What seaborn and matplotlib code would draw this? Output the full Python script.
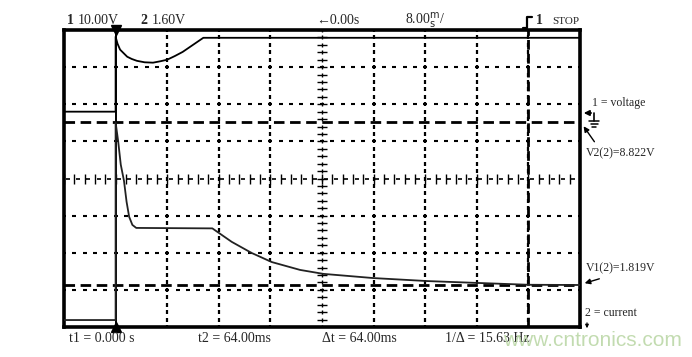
import numpy as np
import pandas as pd
import matplotlib
matplotlib.use("Agg")
import matplotlib.pyplot as plt
import seaborn as sns
from matplotlib.lines import Line2D

sns.set_theme(style="white")
plt.rcParams['font.family'] = ['Liberation Serif', 'DejaVu Serif']

# ---------------- data (read from the screen) ----------------
# channel 1 : voltage (10.00 V/div), time in ms (8.00 ms/div)
v_time = [-8.0, 0.0, 0.0, 0.3, 0.7, 1.8, 2.5, 3.3, 4.5, 5.8, 7.0, 8.0, 9.2, 10.4, 12.0, 13.6, 72.0]
v_volts = [0.0, 0.0, 20.2, 18.3, 16.7, 14.8, 14.2, 13.7, 13.3, 13.2, 13.6, 14.0, 15.0, 16.1, 18.0, 19.9, 19.9]
# channel 2 : current probe (1.60 V/div)
i_time = [-8.0, 0.0, 0.0, 0.4, 0.8, 1.3, 1.7, 2.1, 2.6, 3.2, 15.0, 18.0, 21.1, 24.2, 28.6,
          32.2, 39.9, 48.3, 56.0, 64.0, 72.0]
i_volts = [0.30, 0.30, 8.82, 8.0, 7.0, 6.3, 5.4, 4.75, 4.4, 4.27, 4.25, 3.67, 3.19, 2.80, 2.46,
           2.29, 2.11, 1.98, 1.90, 1.82, 1.81]

ch1_scale, ch2_scale = 10.0, 1.6      # V/div
ch1_offset, ch2_offset = 5.8, 0.0     # ground positions (div)
t1, t2 = 0.0, 64.0                    # time cursors (ms)
v1_cursor, v2_cursor = 1.819, 8.822   # volt cursors on ch2 (V)

top_labels = ["10.00V", "1.60V", "\u21900.00s", r"8.00$^{\rm m}_{\rm s}$/"]
bottom_labels = ["t1 = 0.000 s", "t2 = 64.00ms", "\u0394t = 64.00ms", "1/\u0394 = 15.63 Hz"]

# ---------------- figure ----------------
W, H = 692, 357
fig = plt.figure(figsize=(W / 100, H / 100), dpi=100)
fig.patch.set_facecolor("white")
ax = fig.add_axes([64 / W, 1 - 327 / H, 516 / W, 297 / H])
ax.set_facecolor("white")


def P(x, y):
    return (x / W, 1 - y / H)


xmin, xmax = -8.0, 72.0
ax.set_xlim(xmin, xmax)
ax.set_ylim(0, 8)

# grid dots
xdivs = np.arange(xmin, xmax + 0.01, 8.0)
gx = np.arange(xmin, xmax + 0.01, 1.6)
gy = np.arange(0, 8.01, 0.2)
for yd in [1, 2, 3, 5, 6, 7]:
    ax.plot(gx, np.full_like(gx, yd), ls="none", marker="_", ms=3.2, mew=1.5, color="black", zorder=2)
for xd in xdivs[2:-1]:
    if abs(xd - 32) < 1e-6:
        continue
    ax.plot(np.full_like(gy, xd), gy, ls="none", marker="|", ms=3.2, mew=1.6, color="black", zorder=2)
# centre graticule
ax.plot(gx, np.full_like(gx, 4.0), ls="none", marker="|", ms=7, mew=1.0, color="black", zorder=2)
ax.plot(gx + 0.55, np.full_like(gx, 4.0), ls="none", marker="_", ms=3, mew=1.2, color="black", zorder=2)
ax.plot(np.full_like(gy, 32.0), gy, ls="none", marker="_", ms=7, mew=1.0, color="black", zorder=2)
ax.plot(np.full_like(gy, 32.0), gy, ls="none", marker="|", ms=3, mew=1.0, color="black", zorder=2)

# cursors
ax.axvline(t1, color="black", lw=1.4, zorder=3)
ax.axvline(t2, color="black", lw=2.0, ls=(0, (3.5, 1.5)), zorder=3)
ax.axhline(v2_cursor / ch2_scale + ch2_offset, color="black", lw=2.0, ls=(0, (3.8, 2.0)), zorder=3)
ax.axhline(v1_cursor / ch2_scale + ch2_offset, color="black", lw=2.0, ls=(0, (3.8, 2.0)), zorder=3)

# traces
df1 = pd.DataFrame({"t": v_time, "div": np.array(v_volts) / ch1_scale + ch1_offset})
df2 = pd.DataFrame({"t": i_time, "div": np.array(i_volts) / ch2_scale + ch2_offset})
sns.lineplot(data=df1, x="t", y="div", estimator=None, sort=False, color="black", lw=1.3, ax=ax, zorder=4)
sns.lineplot(data=df2, x="t", y="div", estimator=None, sort=False, color="#222222", lw=1.3, ax=ax, zorder=4)

ax.set_xlabel("")
ax.set_ylabel("")
ax.set_xticks([])
ax.set_yticks([])
for s in ax.spines.values():
    s.set_visible(True)
    s.set_color("black")
    s.set_linewidth(2.6)

# cursor triangles
ax.plot([t1], [8], marker="v", ms=7, color="black", clip_on=False, zorder=6)
ax.plot([t1], [0], marker="^", ms=7, color="black", clip_on=False, zorder=6)

# top texts
fs = 10
fig.text(*P(67, 21), "1", fontsize=fs, fontweight="bold", va="center", ha="left")
fig.text(*P(78, 21), top_labels[0], fontsize=fs, va="center", ha="left")
fig.text(*P(140, 21), "2", fontsize=fs, fontweight="bold", va="center", ha="left")
fig.text(*P(152, 21), top_labels[1], fontsize=fs, va="center", ha="left")
fig.text(*P(316, 21), top_labels[2], fontsize=fs, va="center", ha="left")
fig.text(*P(405, 21), top_labels[3], fontsize=fs, va="center", ha="left")
# trigger symbol
fig.add_artist(Line2D([523 / W, 527 / W, 527 / W, 532 / W], [1 - 28 / H, 1 - 28 / H, 1 - 17 / H, 1 - 17 / H],
                      color="black", lw=1.6, transform=fig.transFigure))
fig.text(*P(536, 21), "1", fontsize=fs, fontweight="bold", va="center", ha="left")
fig.text(*P(552, 22), "STOP", fontsize=8, va="center", ha="left")

# bottom texts
for x, lab in zip([69, 198, 322, 445], bottom_labels):
    fig.text(*P(x, 339), lab, fontsize=fs, va="center", ha="left")

# right annotations
rs = 8.5
fig.text(*P(592, 103), "1 = voltage", fontsize=rs, va="center", ha="left")
# ground marker for ch1
ax.annotate("", xy=P(581, 113), xytext=P(594, 113), xycoords="figure fraction",
            arrowprops=dict(arrowstyle="-|>", color="black", lw=1.2, mutation_scale=8))
fig.add_artist(Line2D([594 / W, 594 / W], [1 - 113 / H, 1 - 121 / H], color="black", lw=1.2,
                      transform=fig.transFigure))
for yy, half in [(121, 5), (124, 3.5), (127, 2)]:
    fig.add_artist(Line2D([(594 - half) / W, (594 + half) / W], [1 - yy / H, 1 - yy / H], color="black",
                          lw=1.1, transform=fig.transFigure))
fig.text(*P(586, 153), "V2(2)=8.822V", fontsize=rs, va="center", ha="left")
ax.annotate("", xy=P(582, 124), xytext=P(596, 144), xycoords="figure fraction",
            arrowprops=dict(arrowstyle="-|>", color="black", lw=1.0, mutation_scale=8))
fig.text(*P(586, 268), "V1(2)=1.819V", fontsize=rs, va="center", ha="left")
ax.annotate("", xy=P(582, 284), xytext=P(602, 278), xycoords="figure fraction",
            arrowprops=dict(arrowstyle="-|>", color="black", lw=1.0, mutation_scale=8))
fig.text(*P(585, 313), "2 = current", fontsize=rs, va="center", ha="left")
ax.annotate("", xy=P(587, 331), xytext=P(587, 320), xycoords="figure fraction",
            arrowprops=dict(arrowstyle="-|>", color="black", lw=0.8, mutation_scale=5))

# watermark
fig.text(*P(682, 340), "www.cntronics.com", fontsize=15, color="#bcd8a8", va="center", ha="right",
         family=["Liberation Sans", "DejaVu Sans"], alpha=0.9, zorder=10)

fig.savefig("out.png", dpi=100, facecolor="white")
